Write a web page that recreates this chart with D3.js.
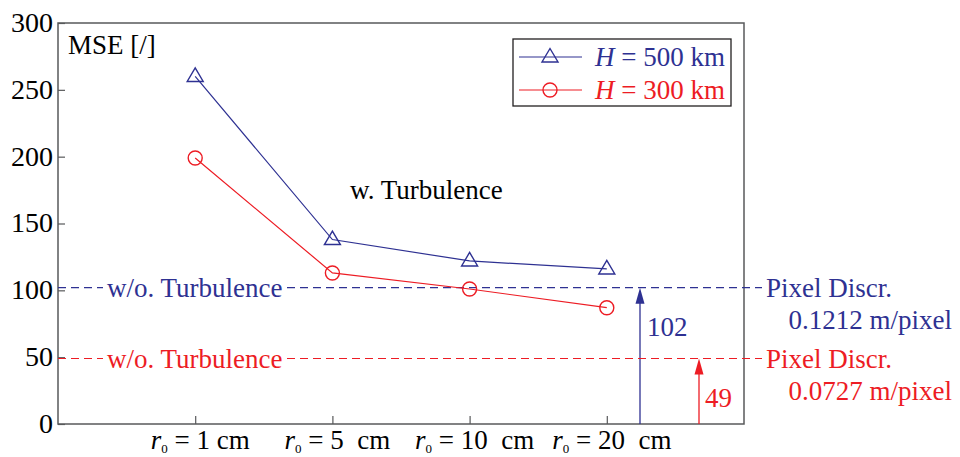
<!DOCTYPE html>
<html>
<head>
<meta charset="utf-8">
<script src="https://cdn.jsdelivr.net/npm/d3@7"></script>
<style>
  body { margin: 0; background: #fff; }
  svg { display: block; }
  svg text { font-family: "Liberation Serif", "Times New Roman", serif; }
</style>
</head>
<body>
<script>
// r0 values on the x axis
const r0Values = ["1", "5", "10", "20"];
const r0Units = [" cm", "  cm", "  cm", "  cm"];
// MSE with turbulence, per orbit height
const mseH500 = [260, 138, 122, 116];
const mseH300 = [199, 113, 101, 87];
// MSE without turbulence (pixel discretisation only)
const pixelMseH500 = 102;
const pixelMseH300 = 49;
const pixelSizeH500 = "0.1212 m/pixel";
const pixelSizeH300 = "0.0727 m/pixel";
const yTicks = [0, 50, 100, 150, 200, 250, 300];

const blue = "#2e3192",
  red = "#ed1c24",
  frameColor = "#58595b";

const w = 960,
  h = 457;
const margin = { left: 58, right: 216, top: 23, bottom: 33 };
const innerRight = w - margin.right,
  innerBottom = h - margin.bottom;
const fontSize = 27;

const svg = d3
  .select("body")
  .append("svg")
  .attr("width", w)
  .attr("height", h);

const x = d3
  .scalePoint()
  .domain(r0Values)
  .range([margin.left, innerRight])
  .padding(1);

const y = d3.scaleLinear().domain([0, 300]).range([innerBottom, margin.top]);

// frame
svg
  .append("rect")
  .attr("x", margin.left)
  .attr("y", margin.top)
  .attr("width", innerRight - margin.left)
  .attr("height", innerBottom - margin.top)
  .attr("fill", "none")
  .attr("stroke", frameColor)
  .attr("stroke-width", 1.5);

// y axis, ticks pointing inside
const yAxis = svg
  .append("g")
  .attr("transform", "translate(" + margin.left + ",0)")
  .call(d3.axisLeft(y).tickValues(yTicks).tickSize(-7).tickPadding(5));
yAxis.attr("font-family", null);
yAxis.select(".domain").remove();
yAxis.selectAll("line").attr("stroke", frameColor).attr("stroke-width", 1.2);
yAxis
  .selectAll("text")
  .attr("font-size", 28)
  .attr("fill", "#000")
  .attr("dy", "0.3em");

// x axis ticks pointing inside
const xAxis = svg
  .append("g")
  .attr("transform", "translate(0," + innerBottom + ")")
  .call(d3.axisBottom(x).tickSize(-8).tickFormat(""));
xAxis.select(".domain").remove();
xAxis.selectAll("line").attr("stroke", frameColor).attr("stroke-width", 1.2);

// x labels: r0 = N cm
const xLabels = svg
  .append("g")
  .selectAll("text")
  .data(r0Values)
  .enter()
  .append("text")
  .attr("x", (d) => x(d) + 5)
  .attr("y", 449)
  .attr("text-anchor", "middle")
  .attr("font-size", fontSize)
  .attr("fill", "#000")
  .style("white-space", "pre");
xLabels.append("tspan").attr("font-style", "italic").text("r");
xLabels
  .append("tspan")
  .attr("font-size", 13)
  .attr("dy", 4)
  .text("0");
xLabels
  .append("tspan")
  .attr("dy", -4)
  .text((d, i) => " = " + d + r0Units[i]);

// "w/o. Turbulence" dashed reference lines with arrows
const refs = [
  { v: pixelMseH500, color: blue, arrowX: 640, size: pixelSizeH500, numX: 647 },
  { v: pixelMseH300, color: red, arrowX: 699, size: pixelSizeH300, numX: 705 },
];

refs.forEach(function (r) {
  const yy = y(r.v);
  // dashed line, broken where the label sits
  [
    [margin.left, 103],
    [287, 762],
  ].forEach(function (seg) {
    svg
      .append("line")
      .attr("x1", seg[0])
      .attr("x2", seg[1])
      .attr("y1", yy)
      .attr("y2", yy)
      .attr("stroke", r.color)
      .attr("stroke-width", 1.2)
      .attr("stroke-dasharray", "8,5");
  });
  svg
    .append("text")
    .attr("x", 107)
    .attr("y", yy + 9)
    .attr("font-size", fontSize)
    .attr("fill", r.color)
    .text("w/o. Turbulence");

  // arrow from the x axis up to the line
  svg
    .append("line")
    .attr("x1", r.arrowX)
    .attr("x2", r.arrowX)
    .attr("y1", innerBottom)
    .attr("y2", yy + 10)
    .attr("stroke", r.color)
    .attr("stroke-width", 1.3);
  svg
    .append("path")
    .attr(
      "d",
      "M" + r.arrowX + "," + yy +
        "L" + (r.arrowX - 4.5) + "," + (yy + 16) +
        "L" + (r.arrowX + 4.5) + "," + (yy + 16) + "Z"
    )
    .attr("fill", r.color);
  svg
    .append("text")
    .attr("x", r.numX)
    .attr("y", yy + 48)
    .attr("font-size", fontSize)
    .attr("fill", r.color)
    .text(r.v);

  svg
    .append("text")
    .attr("x", 766)
    .attr("y", yy + 9)
    .attr("font-size", fontSize)
    .attr("fill", r.color)
    .text("Pixel Discr.");
  svg
    .append("text")
    .attr("x", 952)
    .attr("y", yy + 41)
    .attr("text-anchor", "end")
    .attr("font-size", fontSize)
    .attr("fill", r.color)
    .text(r.size);
});

// series
const series = [
  { name: "500", values: mseH500, color: blue, marker: "triangle" },
  { name: "300", values: mseH300, color: red, marker: "circle" },
];

const line = d3
  .line()
  .x((d, i) => x(r0Values[i]))
  .y((d) => y(d));

const trianglePath = function (cx, cy) {
  return (
    "M" + cx + "," + (cy - 8.5) +
    "L" + (cx + 8) + "," + (cy + 5) +
    "L" + (cx - 8) + "," + (cy + 5) + "Z"
  );
};

const drawMarker = function (g, kind, cx, cy, color) {
  if (kind === "triangle") {
    g.append("path")
      .attr("d", trianglePath(cx, cy))
      .attr("fill", "none")
      .attr("stroke", color)
      .attr("stroke-width", 1.4);
  } else {
    g.append("circle")
      .attr("cx", cx)
      .attr("cy", cy)
      .attr("r", 7)
      .attr("fill", "none")
      .attr("stroke", color)
      .attr("stroke-width", 1.4);
  }
};

series.forEach(function (s) {
  const g = svg.append("g");
  g.append("path")
    .datum(s.values)
    .attr("d", line)
    .attr("fill", "none")
    .attr("stroke", s.color)
    .attr("stroke-width", 1.2);
  s.values.forEach(function (v, i) {
    drawMarker(g, s.marker, x(r0Values[i]), y(v), s.color);
  });
});

svg
  .append("text")
  .attr("x", 350)
  .attr("y", 199)
  .attr("font-size", fontSize)
  .attr("fill", "#000")
  .text("w. Turbulence");

svg
  .append("text")
  .attr("x", 68)
  .attr("y", 54)
  .attr("font-size", fontSize)
  .attr("fill", "#000")
  .text("MSE [/]");

// legend
const legend = svg.append("g").attr("transform", "translate(513,39)");
legend
  .append("rect")
  .attr("width", 218)
  .attr("height", 67)
  .attr("fill", "#fff")
  .attr("stroke", "#231f20")
  .attr("stroke-width", 1.3);

series.forEach(function (s, i) {
  const ly = 18 + i * 33;
  legend
    .append("line")
    .attr("x1", 6)
    .attr("x2", 69)
    .attr("y1", ly)
    .attr("y2", ly)
    .attr("stroke", s.color)
    .attr("stroke-width", 1.2);
  drawMarker(legend, s.marker, 37, ly, s.color);
  const t = legend
    .append("text")
    .attr("x", 82)
    .attr("y", ly + 9)
    .attr("font-size", fontSize)
    .attr("fill", s.color)
    .style("white-space", "pre");
  t.append("tspan").attr("font-style", "italic").text("H");
  t.append("tspan").text(" = " + s.name + " km");
});
</script>
</body>
</html>
